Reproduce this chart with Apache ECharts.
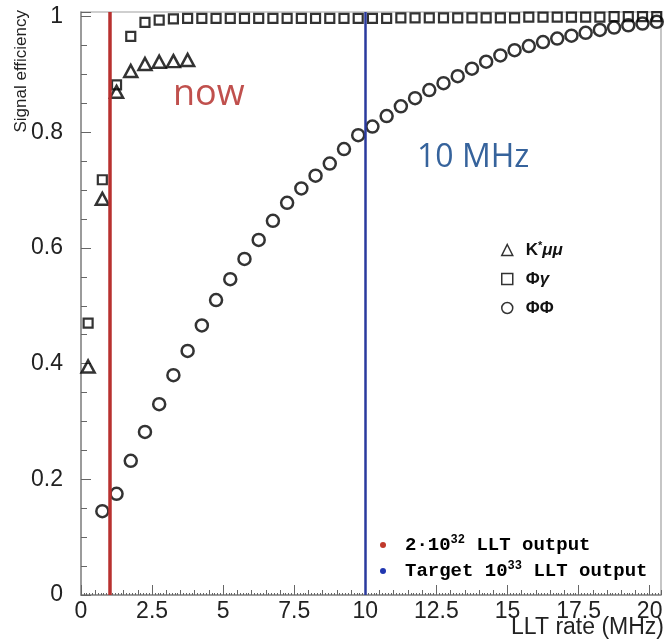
<!DOCTYPE html>
<html><head><meta charset="utf-8">
<script src="https://cdn.jsdelivr.net/npm/echarts@6/dist/echarts.min.js"></script>
<style>html,body{margin:0;padding:0;background:#fff}#c{width:664px;height:643px}</style>
</head><body><div id="c"></div>
<script>
// ---- data ----
const kmumuX = [0.25, 0.75, 1.25, 1.75, 2.25, 2.75, 3.25, 3.75];
const kmumuY = [0.395, 0.685, 0.870, 0.906, 0.918, 0.922, 0.923, 0.925];

const phigammaX = [0.25, 0.75, 1.25, 1.75, 2.25, 2.75, 3.25, 3.75, 4.25, 4.75,
  5.25, 5.75, 6.25, 6.75, 7.25, 7.75, 8.25, 8.75, 9.25, 9.75,
  10.25, 10.75, 11.25, 11.75, 12.25, 12.75, 13.25, 13.75, 14.25, 14.75,
  15.25, 15.75, 16.25, 16.75, 17.25, 17.75, 18.25, 18.75, 19.25, 19.75, 20.25];
const phigammaY = [0.470, 0.718, 0.882, 0.966, 0.990, 0.994, 0.996, 0.997, 0.997, 0.997,
  0.997, 0.997, 0.997, 0.997, 0.997, 0.997, 0.997, 0.997, 0.997, 0.997,
  0.997, 0.997, 0.998, 0.998, 0.998, 0.998, 0.998, 0.998, 0.998, 0.998,
  0.998, 0.999, 0.999, 0.999, 0.999, 0.999, 0.999, 1.000, 1.000, 1.000, 1.000];

const phiphiX = [0.75, 1.25, 1.75, 2.25, 2.75, 3.25, 3.75, 4.25, 4.75,
  5.25, 5.75, 6.25, 6.75, 7.25, 7.75, 8.25, 8.75, 9.25, 9.75,
  10.25, 10.75, 11.25, 11.75, 12.25, 12.75, 13.25, 13.75, 14.25, 14.75,
  15.25, 15.75, 16.25, 16.75, 17.25, 17.75, 18.25, 18.75, 19.25, 19.75, 20.25];
const phiphiY = [0.145, 0.175, 0.232, 0.282, 0.330, 0.380, 0.422, 0.466, 0.510,
  0.546, 0.581, 0.614, 0.647, 0.678, 0.703, 0.725, 0.746, 0.771, 0.795,
  0.810, 0.828, 0.845, 0.859, 0.873, 0.885, 0.897, 0.910, 0.922, 0.933,
  0.942, 0.949, 0.956, 0.962, 0.967, 0.972, 0.977, 0.981, 0.985, 0.988, 0.991];

const xTickLabels = ['0', '2.5', '5', '7.5', '10', '12.5', '15', '17.5', '20'];
const yTickLabels = ['0', '0.2', '0.4', '0.6', '0.8', '1'];
const nowLine = 1;      // "now" rate (MHz)
const targetLine = 10;  // target rate (MHz)

const seriesNames = ['Kmumu', 'Phigamma', 'Phiphi'];
const legendRich = {
  Kmumu: '{b|K}{sup|*}{i|μμ}',
  Phigamma: '{b|Φ}{i|γ}',
  Phiphi: '{b|ΦΦ}'
};

function zip(xs, ys) { return xs.map((x, i) => [x, ys[i]]); }

const chart = echarts.init(document.getElementById('c'), null, {renderer: 'canvas'});
const axisGray = '#8c8c8c';
const tickGray = '#666';
const FONT = '"Liberation Sans", Arial, sans-serif';
const MONO = '"Liberation Mono", "Courier New", monospace';

const markerStyle = (bw) => ({color: 'rgba(0,0,0,0)', borderColor: '#000', borderWidth: bw});

const monoRich = {
  a: {fontFamily: MONO, fontSize: 19, fontWeight: 'bold', color: '#111', lineHeight: 22},
  s: {fontFamily: MONO, fontSize: 12, fontWeight: 'bold', color: '#111', verticalAlign: 'top', lineHeight: 22}
};

chart.setOption({
  animation: false,
  backgroundColor: '#fff',
  grid: {left: 81, right: 3, top: 12, bottom: 48, show: true, borderColor: '#a0a0a0', borderWidth: 1.2,
         containLabel: false, outerBoundsMode: 'none'},
  xAxis: [{
    type: 'value', min: 0, max: 20.4, interval: 2.5, position: 'bottom',
    axisLine: {show: true, onZero: false, lineStyle: {color: axisGray, width: 1.5}},
    axisTick: {show: true, inside: true, length: 10, lineStyle: {color: tickGray, width: 1}},
    minorTick: {show: false},
    splitLine: {show: false},
    axisLabel: {
      showMaxLabel: false, margin: 5, color: '#222', fontSize: 23, fontFamily: FONT,
      formatter: v => { const k = Math.round(v / 2.5); return Math.abs(v - k * 2.5) < 1e-6 ? (xTickLabels[k] || '') : ''; }
    }
  }, {
    type: 'value', min: 0, max: 20.4, interval: 0.5, position: 'bottom', offset: 0,
    axisLine: {show: false},
    axisTick: {show: true, inside: true, length: 5, lineStyle: {color: tickGray, width: 1}},
    minorTick: {show: true, splitNumber: 5, length: 2, lineStyle: {color: tickGray, width: 1}},
    splitLine: {show: false},
    axisLabel: {show: false}
  }],
  yAxis: {
    type: 'value', min: 0, max: 1.008, interval: 0.2,
    axisLine: {show: true, onZero: false, lineStyle: {color: axisGray, width: 1.5}},
    axisTick: {show: true, inside: true, length: 10, lineStyle: {color: tickGray, width: 1}},
    minorTick: {show: true, splitNumber: 4, length: 6, lineStyle: {color: tickGray, width: 1}},
    splitLine: {show: false},
    axisLabel: {
      showMaxLabel: false, margin: 18, color: '#222', fontSize: 23, fontFamily: FONT,
      formatter: v => { const k = Math.round(v / 0.2); return Math.abs(v - k * 0.2) < 1e-6 ? (yTickLabels[k] || '') : ''; }
    }
  },
  legend: {
    orient: 'vertical', left: 501, top: 240, padding: 0, itemGap: 9,
    itemWidth: 11, itemHeight: 11,
    data: seriesNames,
    itemStyle: {borderWidth: 1.5},
    formatter: name => legendRich[name],
    textStyle: {
      fontFamily: FONT, fontSize: 17, fontWeight: 'bold', color: '#111', lineHeight: 20, padding: [0, 0, 0, 8],
      rich: {
        b: {fontFamily: FONT, fontSize: 17, fontWeight: 'bold', color: '#111'},
        i: {fontFamily: FONT, fontSize: 17, fontWeight: 'bold', fontStyle: 'italic', color: '#111'},
        sup: {fontFamily: FONT, fontSize: 11, fontWeight: 'bold', color: '#111', verticalAlign: 'top', lineHeight: 20}
      }
    }
  },
  series: [{
    name: 'Kmumu', type: 'scatter', symbol: 'triangle', symbolSize: [13, 12],
    itemStyle: markerStyle(2.5), data: zip(kmumuX, kmumuY), z: 3,
    markLine: {silent: true, symbol: ['none', 'none'], label: {show: false},
      lineStyle: {color: '#b8312f', width: 3.5, type: 'solid'}, data: [{xAxis: nowLine}]}
  }, {
    name: 'Phigamma', type: 'scatter', symbol: 'rect', symbolSize: 9,
    itemStyle: markerStyle(2.2), data: zip(phigammaX, phigammaY), z: 3
  }, {
    name: 'Phiphi', type: 'scatter', symbol: 'circle', symbolSize: 12,
    itemStyle: markerStyle(2.5), data: zip(phiphiX, phiphiY), z: 3,
    markLine: {silent: true, symbol: ['none', 'none'], label: {show: false},
      lineStyle: {color: '#2a3a9e', width: 2.5, type: 'solid'}, data: [{xAxis: targetLine}]}
  }],
  graphic: [
    {type: 'text', x: 173, y: 95, z: 10,
     style: {text: 'now', font: '36px "Open Sans", "Liberation Sans", sans-serif', fill: '#c0504d', textAlign: 'left', textVerticalAlign: 'middle'}},
    {type: 'text', x: 417, y: 158, z: 10,
     style: {text: '10 MHz', font: '32px "Open Sans", "Liberation Sans", sans-serif', fill: '#36639c', textAlign: 'left', textVerticalAlign: 'middle'}},
    {type: 'text', x: 21, y: 10, rotation: Math.PI / 2, z: 10,
     style: {text: 'Signal efficiency', font: '17px "Liberation Sans", Arial, sans-serif', fill: '#222', textAlign: 'right', textVerticalAlign: 'middle'}},
    {type: 'text', x: 664, y: 628, z: 10,
     style: {text: 'LLT rate (MHz)', font: '23px "Liberation Sans", Arial, sans-serif', fill: '#222', textAlign: 'right', textVerticalAlign: 'middle'}},
    {type: 'circle', shape: {cx: 383, cy: 545, r: 3}, style: {fill: '#c0392b'}, z: 10},
    {type: 'circle', shape: {cx: 383, cy: 571, r: 3}, style: {fill: '#2036b0'}, z: 10},
    {type: 'text', x: 405, y: 545, z: 10,
     style: {text: '{a|2·10}{s|32}{a| LLT output}', rich: monoRich, textAlign: 'left', textVerticalAlign: 'middle'}},
    {type: 'text', x: 405, y: 571, z: 10,
     style: {text: '{a|Target 10}{s|33}{a| LLT output}', rich: monoRich, textAlign: 'left', textVerticalAlign: 'middle'}}
  ]
});
</script></body></html>
